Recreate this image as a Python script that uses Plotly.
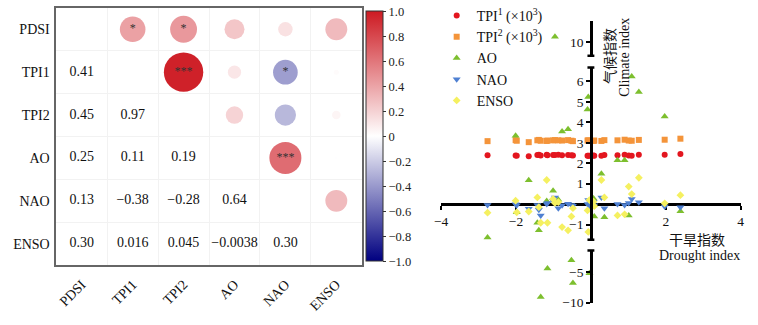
import plotly.graph_objects as go

# ---------------- correlation matrix ----------------
variables = ["PDSI", "TPI1", "TPI2", "AO", "NAO", "ENSO"]
corr = [
    [1.0, 0.41, 0.45, 0.25, 0.13, 0.30],
    [0.41, 1.0, 0.97, 0.11, -0.38, 0.016],
    [0.45, 0.97, 1.0, 0.19, -0.28, 0.045],
    [0.25, 0.11, 0.19, 1.0, 0.64, -0.0038],
    [0.13, -0.38, -0.28, 0.64, 1.0, 0.30],
    [0.30, 0.016, 0.045, -0.0038, 0.30, 1.0],
]
signif = [
    ["", "*", "*", "", "", ""],
    ["", "", "***", "", "*", ""],
    ["", "", "", "", "", ""],
    ["", "", "", "", "***", ""],
    ["", "", "", "", "", ""],
    ["", "", "", "", "", ""],
]
cbar_ticks = [1.0, 0.8, 0.6, 0.4, 0.2, 0.0, -0.2, -0.4, -0.6, -0.8, -1.0]

# ---------------- drought vs climate indices ----------------
drought_index = [-2.76, -2.01, -1.98, -1.66, -1.43, -1.39, -1.34, -1.18, -1.16, -1.01,
                 -0.96, -0.87, -0.77, -0.61, -0.52, -0.48, -0.09, -0.07, -0.04, 0.07,
                 0.09, 0.28, 0.36, 0.71, 0.90, 1.01, 1.09, 1.28, 1.97, 2.39]
tpi1 = [2.39, 2.38, 2.37, 2.34, 2.40, 2.42, 2.38, 2.41, 2.39, 2.40,
        2.40, 2.41, 2.39, 2.40, 2.39, 2.38, 2.37, 2.36, 2.37, 2.38,
        2.37, 2.36, 2.40, 2.39, 2.42, 2.38, 2.37, 2.41, 2.42, 2.45]
tpi2 = [3.08, 3.13, 3.10, 3.03, 3.12, 3.14, 3.10, 3.09, 3.11, 3.12,
        3.13, 3.12, 3.11, 3.13, 3.10, 3.08, 3.11, 3.12, 3.10, 3.09,
        3.11, 3.09, 3.13, 3.12, 3.15, 3.11, 3.10, 3.14, 3.15, 3.20]
ao = [-1.63, 3.34, -0.40, 1.17, -0.91, -1.28, -9.07, 0.15, -4.43, 0.65,
      10.93, 0.22, 3.55, 3.66, -3.07, -6.79, 4.63, 5.24, -5.20, 0.28,
      -0.60, 1.49, -0.64, 2.15, 2.15, -0.56, 6.24, 5.48, 4.28, -0.35]
nao = [-0.04, 0.00, -0.05, -0.23, -0.04, -0.27, -0.55, 0.01, 0.05, 0.17,
       0.33, -0.20, -0.05, 0.02, -0.04, -0.08, 0.01, 0.20, -0.08, 0.12,
       -0.05, 0.33, -0.20, 0.01, -0.04, 0.06, 0.25, 0.09, -0.12, -0.15]
enso = [-0.42, 0.17, -0.40, -0.36, 0.33, -0.15, -0.91, 1.18, -0.91, 0.25,
        0.06, 0.10, -1.12, -1.28, -0.60, -0.20, -0.31, -1.36, 0.20, 0.12,
        -0.10, 1.18, 0.33, -0.55, -0.50, 0.86, 0.49, 1.29, 0.04, 0.44]

x_ticks = [-4, -2, 2, 4]
mid_ticks = [-1, 1, 2, 3, 4, 5, 6]
low_ticks = [-5, -10]
high_ticks = [10]

# ---------------- styling ----------------
W, H = 758, 325
SERIF = "Liberation Serif, Times New Roman, Noto Sans CJK SC, serif"
COLORSCALE = [[0.0, "#000080"], [0.5, "#FFFFFF"], [1.0, "#CD1A22"]]


def minus(s):
    return s.replace("-", "\u2212")


def px_x(p):
    return p / W


def px_y(p):
    return 1 - p / H


fig = go.Figure()

# upper triangle: circles (area ~ |r|), coloured by r
cx, cy, cval, csize, stars_x, stars_y, stars_t = [], [], [], [], [], [], []
lx, ly, lt = [], [], []
n = len(variables)
for i in range(n):
    for j in range(n):
        r = corr[i][j]
        if j > i:
            cx.append(j)
            cy.append(i)
            cval.append(r)
            csize.append(40 * abs(r) ** 0.5)
            if signif[i][j]:
                stars_x.append(j)
                stars_y.append(i)
                stars_t.append(signif[i][j])
        elif j < i:
            lx.append(j)
            ly.append(i)
            lt.append(minus(format(r, "#.2g")))

fig.add_trace(go.Scatter(
    x=cx, y=cy, mode="markers", showlegend=False, hoverinfo="skip",
    marker=dict(
        size=csize, color=cval, colorscale=COLORSCALE, cmin=-1, cmax=1,
        opacity=1, line=dict(width=0),
        colorbar=dict(
            x=px_x(364), xanchor="left", xref="paper",
            y=px_y(139.5), yanchor="middle", yref="paper",
            len=255 / H, lenmode="fraction",
            thickness=17, thicknessmode="pixels",
            xpad=0, ypad=0,
            outlinewidth=1, outlinecolor="#333333",
            tickvals=cbar_ticks,
            ticktext=[minus("0" if v == 0 else f"{v:.1f}") for v in cbar_ticks],
            ticks="outside", ticklen=3, tickcolor="#333333",
            tickfont=dict(family=SERIF, size=12.5, color="#222222"),
        ),
    ),
    xaxis="x", yaxis="y",
))
fig.add_trace(go.Scatter(
    x=stars_x, y=stars_y, text=stars_t, mode="text", showlegend=False,
    hoverinfo="skip", textfont=dict(family=SERIF, size=12, color="#333333"),
    textposition="middle center", xaxis="x", yaxis="y",
))
fig.add_trace(go.Scatter(
    x=lx, y=ly, text=lt, mode="text", showlegend=False, hoverinfo="skip",
    textfont=dict(family=SERIF, size=14, color="#111111"),
    textposition="middle center", xaxis="x", yaxis="y",
))

# ---------------- scatter with broken y axis ----------------
# domains / ranges of the three y segments
seg_low = dict(domain=[px_y(310), px_y(256)], range=[-10.1, -1.5])
seg_mid = dict(domain=[px_y(245), px_y(69)], range=[-1.74, 6.68])
seg_high = dict(domain=[px_y(57), px_y(21)], range=[7.82, 13.55])


def seg_of(v):
    if v > 7.0:
        return "y4"
    if v < -1.7:
        return "y2"
    return "y3"


series = [
    ("TPI<sup>1</sup> (\u00d710<sup>3</sup>)", tpi1, "circle", 6, "#E3161F"),
    ("TPI<sup>2</sup> (\u00d710<sup>3</sup>)", tpi2, "square", 6, "#F4943A"),
    ("AO", ao, "triangle-up", 7, "#7DBF2E"),
    ("NAO", nao, "triangle-down", 7, "#4F80D2"),
    ("ENSO", enso, "diamond", 6, "#F5F060"),
]
for name, vals, sym, size, color in series:
    for axis in ["y3", "y2", "y4"]:
        xs = [x for x, v in zip(drought_index, vals) if seg_of(v) == axis]
        ys = [v for v in vals if seg_of(v) == axis]
        if not xs and axis != "y3":
            continue
        fig.add_trace(go.Scatter(
            x=xs, y=ys, mode="markers", name=name, legendgroup=name,
            showlegend=(axis == "y3"), cliponaxis=False,
            marker=dict(symbol=sym, size=size, color=color, opacity=1,
                        line=dict(width=0)),
            xaxis="x2", yaxis=axis,
        ))

yaxis_x = px_x(592.5)
zero_pos = seg_mid["domain"][0] + (0 - seg_mid["range"][0]) / (
    seg_mid["range"][1] - seg_mid["range"][0]) * (seg_mid["domain"][1] - seg_mid["domain"][0])

tick_font = dict(family=SERIF, size=13.5, color="#111111")
common_y = dict(anchor="free", position=yaxis_x, showline=True, linewidth=2.5,
                linecolor="black", ticks="outside", ticklen=4, tickwidth=2,
                tickcolor="black", showgrid=False, zeroline=False, tickfont=tick_font)

label_font = dict(family=SERIF, size=14, color="#111111")

fig.update_layout(
    width=W, height=H,
    margin=dict(l=0, r=0, t=0, b=0),
    paper_bgcolor="white", plot_bgcolor="white",
    font=dict(family=SERIF, color="#111111"),
    xaxis=dict(
        domain=[px_x(50), px_x(360)], range=[-0.5, n - 0.5],
        tickvals=list(range(n)), ticktext=variables, tickangle=-45,
        ticks="outside", ticklen=4, tickcolor="rgba(0,0,0,0)",
        showgrid=False, zeroline=False,
        minor=dict(tickvals=[k + 0.5 for k in range(n - 1)], showgrid=True,
                   gridcolor="#F2F2F2", gridwidth=1, ticks=""),
        showline=True, mirror=True, linecolor="#666666", linewidth=1.5,
        tickfont=label_font, anchor="y", fixedrange=True,
    ),
    yaxis=dict(
        domain=[px_y(271), px_y(8)], range=[n - 0.5, -0.5],
        tickvals=list(range(n)), ticktext=variables,
        ticks="outside", ticklen=2, tickcolor="rgba(0,0,0,0)",
        showgrid=False, zeroline=False,
        minor=dict(tickvals=[k + 0.5 for k in range(n - 1)], showgrid=True,
                   gridcolor="#F2F2F2", gridwidth=1, ticks=""),
        showline=True, mirror=True, linecolor="#666666", linewidth=1.5,
        tickfont=label_font, anchor="x", fixedrange=True,
    ),
    xaxis2=dict(
        domain=[px_x(440.5), px_x(744.5)], range=[-4, 4],
        anchor="free", position=zero_pos,
        tickvals=x_ticks, ticktext=[minus(str(v)) for v in x_ticks],
        showline=True, linewidth=2.5, linecolor="black",
        ticks="outside", ticklen=4, tickwidth=2, tickcolor="black",
        showgrid=False, zeroline=False, tickfont=tick_font,
    ),
    yaxis2=dict(domain=seg_low["domain"], range=seg_low["range"],
                tickvals=low_ticks, ticktext=[minus(str(v)) for v in low_ticks], **common_y),
    yaxis3=dict(domain=seg_mid["domain"], range=seg_mid["range"],
                tickvals=mid_ticks, ticktext=[minus(str(v)) for v in mid_ticks], **common_y),
    yaxis4=dict(domain=seg_high["domain"], range=seg_high["range"],
                tickvals=high_ticks, ticktext=[str(v) for v in high_ticks], **common_y),
    legend=dict(
        x=px_x(436), xanchor="left", y=px_y(0), yanchor="top",
        bgcolor="rgba(0,0,0,0)", borderwidth=0,
        font=dict(family=SERIF, size=14, color="#111111"),
        itemwidth=30, tracegroupgap=0,
    ),
    showlegend=True,
)

# end caps at the breaks of the y axis
caps = [("y3 domain", 0), ("y3 domain", 1), ("y2 domain", 1), ("y4 domain", 0)]
for ref, yy in caps:
    fig.add_shape(type="line", xref="paper", yref=ref,
                  x0=yaxis_x - 3.5 / W, x1=yaxis_x + 3.5 / W, y0=yy, y1=yy,
                  line=dict(color="black", width=2.5))

# axis titles (one annotation per line)
titles = [
    ("气候指数", 613, 57, -90),
    ("Climate index", 627, 58, -90),
    ("干旱指数", 700, 246, 0),
    ("Drought index", 703, 261, 0),
]
for text, tx, ty, ang in titles:
    fig.add_annotation(x=px_x(tx), y=px_y(ty), xref="paper", yref="paper",
                       xanchor="center", yanchor="middle",
                       text=text, textangle=ang, showarrow=False,
                       font=dict(family=SERIF, size=14, color="#111111"))

fig.write_html("out.html")
